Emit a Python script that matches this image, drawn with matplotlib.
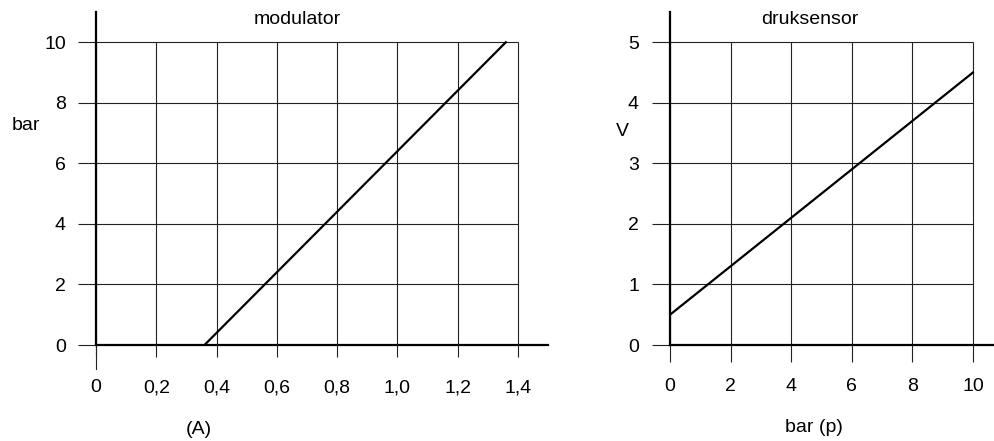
import matplotlib.pyplot as plt

plt.rcParams['font.family'] = ['Liberation Sans', 'DejaVu Sans']
plt.rcParams['font.size'] = 14

# modulator: stroom (A) tegen druk (bar)
mod_stroom = [0.36, 1.36]
mod_druk = [0, 10]
mod_xticks = [0, 0.2, 0.4, 0.6, 0.8, 1.0, 1.2, 1.4]
mod_xlabels = ['0', '0,2', '0,4', '0,6', '0,8', '1,0', '1,2', '1,4']
mod_yticks = [0, 2, 4, 6, 8, 10]

# druksensor: druk (bar) tegen spanning (V)
sens_druk = [0, 10]
sens_spanning = [0.5, 4.5]
sens_xticks = [0, 2, 4, 6, 8, 10]
sens_yticks = [0, 1, 2, 3, 4, 5]

W, H = 995, 441
fig = plt.figure(figsize=(W / 100, H / 100), dpi=100)

grid_kw = dict(color='#222222', linewidth=0.8)


def opmaak(ax, xticks, yticks, xlen, xpad, ylen, ypad):
    for s in ['top', 'right']:
        ax.spines[s].set_visible(False)
    for s in ['left', 'bottom']:
        ax.spines[s].set_linewidth(1.6)
    ax.hlines(yticks, xticks[0], xticks[-1], **grid_kw)
    ax.vlines(xticks, yticks[0], yticks[-1], **grid_kw)
    ax.set_xticks(xticks)
    ax.set_yticks(yticks)
    ax.tick_params(axis='x', direction='out', length=xlen, width=0.8,
                   pad=xpad, color='#222222')
    ax.tick_params(axis='y', direction='out', length=ylen, width=0.8,
                   pad=ypad, color='#222222')


# linker grafiek
ax1 = fig.add_axes([96 / W, (H - 345) / H, (548 - 96) / W, (345 - 12) / H])
ax1.set_xlim(0, 1.5)
ax1.set_ylim(0, 11)
opmaak(ax1, mod_xticks, mod_yticks, 8.6, 16, 13, 8.6)
ax1.set_xticklabels(mod_xlabels)
ax1.axvline(0, ymin=-24 / 333, ymax=0, color='#222222', linewidth=0.8,
            clip_on=False)
ax1.plot(mod_stroom, mod_druk, color='black', linewidth=1.6)

# rechter grafiek
ax2 = fig.add_axes([670 / W, (H - 345) / H, (W - 670) / W, (345 - 12) / H])
ax2.set_xlim(0, 10.73)
ax2.set_ylim(0, 5.5)
opmaak(ax2, sens_xticks, sens_yticks, 12.2, 11.5, 13, 9.4)
ax2.plot(sens_druk, sens_spanning, color='black', linewidth=1.6)

# titels en aslabels
fig.text(297.5 / W, 1 - 19 / H, 'modulator', ha='center', va='center')
fig.text(809.5 / W, 1 - 19 / H, 'druksensor', ha='center', va='center')
fig.text(26 / W, 1 - 126 / H, 'bar', ha='center', va='center')
fig.text(622 / W, 1 - 131 / H, 'V', ha='center', va='center')
fig.text(199 / W, 1 - 430 / H, '(A)', ha='center', va='center')
fig.text(814 / W, 1 - 428 / H, 'bar (p)', ha='center', va='center')

fig.savefig('out.png', dpi=100)
